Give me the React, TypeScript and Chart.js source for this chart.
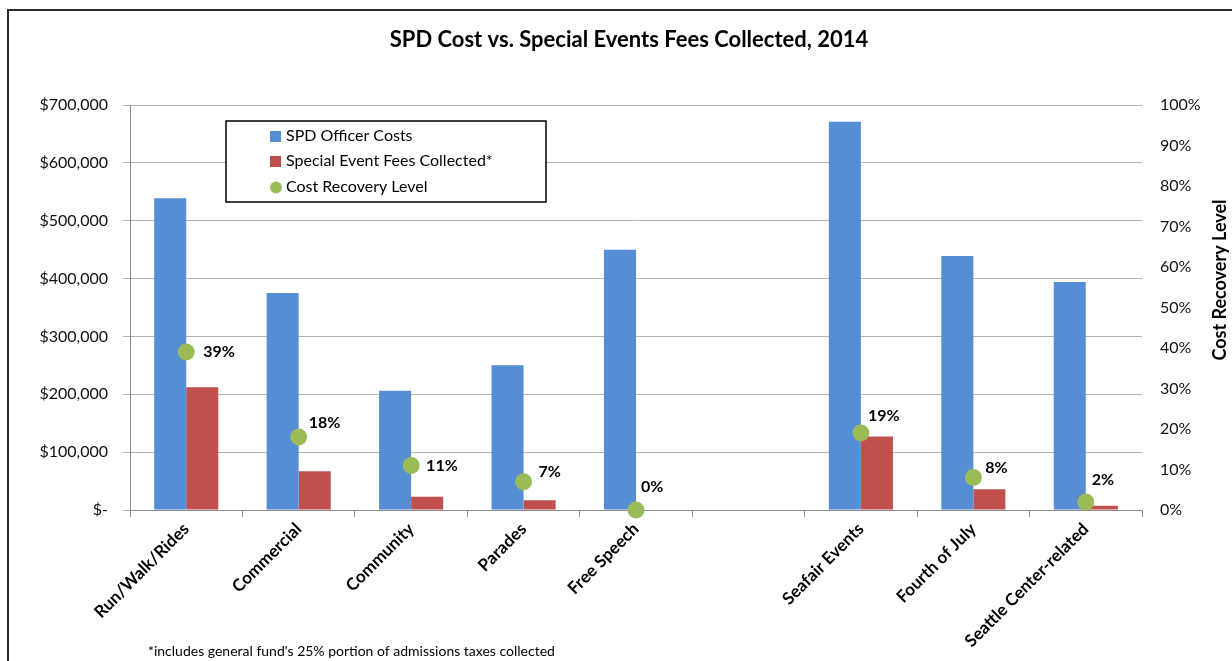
import React, { useEffect, useRef } from 'react';
import { Chart, registerables } from 'chart.js';

Chart.register(...registerables);

// ---- data ----
const categories = [
  'Run/Walk/Rides',
  'Commercial',
  'Community',
  'Parades',
  'Free Speech',
  '',
  'Seafair Events',
  'Fourth of July',
  'Seattle Center-related',
];
const officerCosts = [539000, 375000, 206000, 250000, 450000, null, 671000, 439000, 394000];
const feesCollected = [212000, 67000, 23000, 17000, 0, null, 127000, 36000, 7500];
const recoveryLevel = [0.39, 0.18, 0.11, 0.07, 0.0, null, 0.19, 0.08, 0.02];

const seriesNames = ['SPD Officer Costs', 'Special Event Fees Collected*', 'Cost Recovery Level'];
const chartTitle = 'SPD Cost vs. Special Events Fees Collected, 2014';
const rightAxisTitle = 'Cost Recovery Level';
const footnote = "*includes general fund's 25% portion of admissions taxes collected";

// ---- styles ----
const FONT = "Lato, 'Open Sans', sans-serif";
const BLUE = '#558ED5';
const RED = '#C0504D';
const GREEN = '#9BBB59';
const GRID = '#B3B3B3';
const AXIS = '#8C8C8C';
// label offsets (dx, dy) relative to each point, as placed in the original
const labelOffsets: [number, number][] = [
  [17, 0], [10, -14], [15, 0], [15, -10], [5, -23], [0, 0], [7, -17], [12, -10], [6, -22],
];

const W = 1232;
const H = 661;

const decorPlugin = {
  id: 'decor',
  beforeDraw(chart: any) {
    const ctx = chart.ctx;
    ctx.save();
    ctx.fillStyle = '#fff';
    ctx.fillRect(0, 0, W, H);
    ctx.strokeStyle = '#2a2a2a';
    ctx.lineWidth = 2;
    ctx.strokeRect(8, 10, W + 20, H + 20);
    ctx.restore();
  },
  afterDatasetsDraw(chart: any) {
    const ctx = chart.ctx;
    ctx.save();
    // data labels for recovery points (dataset 0 is the point series)
    const meta = chart.getDatasetMeta(0);
    ctx.font = `bold 16px ${FONT}`;
    ctx.fillStyle = '#000';
    ctx.textAlign = 'left';
    ctx.textBaseline = 'middle';
    meta.data.forEach((pt: any, i: number) => {
      const v = recoveryLevel[i];
      if (v === null || v === undefined) return;
      const [dx, dy] = labelOffsets[i] || [12, 0];
      ctx.fillText(`${Math.round(v * 100)}%`, pt.x + dx, pt.y + dy);
    });

    // legend box
    const bx = 226, by = 121, bw = 320, bh = 81;
    ctx.fillStyle = '#fff';
    ctx.fillRect(bx, by, bw, bh);
    ctx.strokeStyle = '#000';
    ctx.lineWidth = 1.5;
    ctx.strokeRect(bx, by, bw, bh);
    const colors = [BLUE, RED, GREEN];
    const rows = [136, 161, 187];
    ctx.font = `16px ${FONT}`;
    ctx.textBaseline = 'middle';
    seriesNames.forEach((name, i) => {
      const y = rows[i];
      ctx.fillStyle = colors[i];
      if (i < 2) {
        ctx.fillRect(270, y - 5, 11, 11);
      } else {
        ctx.beginPath();
        ctx.arc(276, y + 0.5, 6, 0, Math.PI * 2);
        ctx.fill();
      }
      ctx.fillStyle = '#000';
      ctx.fillText(name, 286, y);
    });
    ctx.restore();
  },
  afterDraw(chart: any) {
    const ctx = chart.ctx;
    ctx.save();
    ctx.fillStyle = '#000';
    // title
    ctx.font = `bold 22px ${FONT}`;
    ctx.textAlign = 'center';
    ctx.textBaseline = 'middle';
    ctx.fillText(chartTitle, 629, 40);
    // right axis title
    ctx.save();
    ctx.translate(1220, 280);
    ctx.rotate(-Math.PI / 2);
    ctx.font = `bold 18px ${FONT}`;
    ctx.fillText(rightAxisTitle, 0, 0);
    ctx.restore();
    // footnote
    ctx.font = `14px ${FONT}`;
    ctx.textAlign = 'left';
    ctx.fillText(footnote, 148, 651);
    ctx.restore();
  },
};

export default function App() {
  const ref = useRef<HTMLCanvasElement | null>(null);

  useEffect(() => {
    if (!ref.current) return;
    const chart = new Chart(ref.current, {
      type: 'bar',
      data: {
        labels: categories,
        datasets: [
          {
            type: 'line',
            label: seriesNames[2],
            data: recoveryLevel as any,
            yAxisID: 'y1',
            showLine: false,
            clip: false,
            pointRadius: 8.5,
            pointHoverRadius: 8.5,
            pointBackgroundColor: GREEN,
            pointBorderWidth: 0,
            borderColor: GREEN,
            backgroundColor: GREEN,
            order: 0,
          } as any,
          {
            type: 'bar',
            label: seriesNames[0],
            data: officerCosts as any,
            backgroundColor: BLUE,
            yAxisID: 'y',
            categoryPercentage: 0.57,
            barPercentage: 1,
            order: 1,
          },
          {
            type: 'bar',
            label: seriesNames[1],
            data: feesCollected as any,
            backgroundColor: RED,
            yAxisID: 'y',
            categoryPercentage: 0.57,
            barPercentage: 1,
            order: 1,
          },
        ],
      },
      options: {
        responsive: false,
        animation: false,
        devicePixelRatio: 1,
        layout: { padding: { top: 105, left: 0, right: 0, bottom: 0 } },
        plugins: {
          legend: { display: false },
          title: { display: false },
          tooltip: { enabled: false },
        },
        scales: {
          x: {
            offset: true,
            grid: {
              display: true,
              offset: true,
              drawOnChartArea: false,
              drawTicks: true,
              tickLength: 7,
              color: AXIS,
            },
            border: { display: true, color: AXIS, width: 1 },
            ticks: {
              autoSkip: false,
              maxRotation: 45,
              minRotation: 45,
              padding: 2,
              color: '#000',
              font: { family: FONT, size: 17, weight: 'bold' },
            },
            afterFit(scale: any) {
              scale.height = 151;
            },
          },
          y: {
            position: 'left',
            min: 0,
            max: 700000,
            ticks: {
              stepSize: 100000,
              padding: 15,
              color: '#111',
              font: { family: FONT, size: 16 },
              callback: (v: any) => (Number(v) === 0 ? '$-' : '$' + Number(v).toLocaleString('en-US')),
            },
            grid: { color: GRID, tickLength: 7, drawTicks: true },
            border: { display: true, color: AXIS, width: 1 },
            afterFit(scale: any) {
              scale.width = 130;
            },
          },
          y1: {
            position: 'right',
            min: 0,
            max: 1,
            ticks: {
              stepSize: 0.1,
              padding: 18,
              color: '#111',
              font: { family: FONT, size: 16 },
              callback: (v: any) => `${Math.round(Number(v) * 100)}%`,
            },
            grid: { display: false, drawTicks: false },
            border: { display: false },
            afterFit(scale: any) {
              scale.width = 90;
            },
          },
        },
      } as any,
      plugins: [decorPlugin],
    });
    return () => chart.destroy();
  }, []);

  return (
    <div style={{ position: 'fixed', left: 0, top: 0, width: W, height: H, background: '#fff' }}>
      <canvas ref={ref} width={W} height={H} style={{ width: W, height: H, display: 'block' }} />
    </div>
  );
}
